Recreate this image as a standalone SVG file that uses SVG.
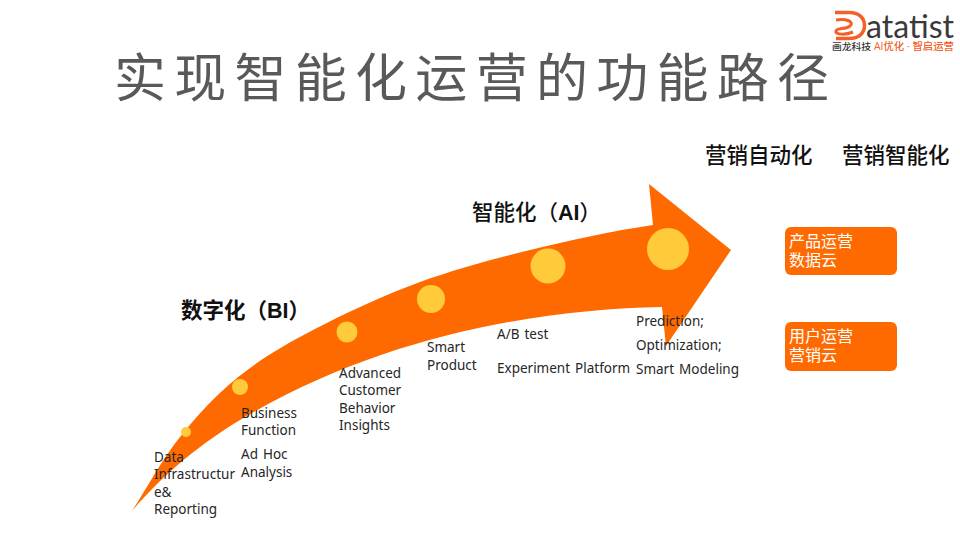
<svg xmlns="http://www.w3.org/2000/svg" width="960" height="540" viewBox="0 0 960 540">
<style>
text{font-family:"Open Sans","Noto Sans CJK SC",sans-serif}
.t{font-family:"Noto Sans",sans-serif;font-size:13.5px;fill:#262626;word-spacing:1.5px}
.h{font-family:"Liberation Sans","Noto Sans CJK SC",sans-serif;font-weight:500;font-size:21.500px;fill:#111}
.b{fill:#ff6a00}
.d{fill:#ffcb3a}
.w{font-family:"Noto Sans CJK SC",sans-serif;font-size:16px;font-weight:400;fill:#fff}
</style>
<rect width="960" height="540" fill="#fff"/>
<g id="logo">
<path d="M835 12.500H849C859 12.500 864.500 18 864.500 25.500C864.500 33 859 38.500 849 38.500H836" fill="none" stroke="#f4602a" stroke-width="3.500"/>
<path d="M836 20C846 18 855 22 850 26C845 30 838 27 836 31C835 35 846 35 853 32" fill="none" stroke="#f4602a" stroke-width="3"/>
<text x="866" y="38" style="font-family:Lato,sans-serif;font-size:33px;fill:#3a3a3a" textLength="88" lengthAdjust="spacingAndGlyphs">atatist</text>
<text x="832" y="50" style="font-size:9.500px;font-weight:500;fill:#333" textLength="39" lengthAdjust="spacingAndGlyphs">画龙科技</text>
<text x="874" y="50" style="font-size:10px;font-weight:500;fill:#f4602a" textLength="80" lengthAdjust="spacingAndGlyphs">AI优化 · 智启运营</text>
</g>
<text id="title" x="114" y="97" style="font-family:'Noto Sans CJK SC',sans-serif;font-size:52px;fill:#595959" textLength="715" lengthAdjust="spacing">实现智能化运营的功能路径</text>
<g id="connectors">
<path id="arrow" class="b" d="M132 511C148 486 162.500 459 180 437C197.500 415 215 396 237 378C259 360 282.500 346 313 330C343.500 314 384 295 420 282C456 269 491 259.500 530 250C569 240.500 612 231 653 225L649 184L731 250L666 346L662 307C540 309 380 336 240 420C205 441 165 472 132 511Z"/>
</g>
<g id="dots">
<circle class="d" cx="186" cy="432" r="5"/>
<circle class="d" cx="240" cy="387" r="8"/>
<circle class="d" cx="347" cy="332" r="10.500"/>
<circle class="d" cx="431" cy="299" r="14"/>
<circle class="d" cx="548" cy="266" r="17.500"/>
<circle class="d" cx="668" cy="249" r="21"/>
</g>
<g id="labels">
<text class="t" x="154" y="462">Data</text>
<text class="t" x="154" y="479">Infrastructur</text>
<text class="t" x="154" y="497">e&amp;</text>
<text class="t" x="154" y="514">Reporting</text>
<text class="t" x="241" y="418">Business</text>
<text class="t" x="241" y="435">Function</text>
<text class="t" x="241" y="459">Ad Hoc</text>
<text class="t" x="241" y="477">Analysis</text>
<text class="t" x="339" y="378">Advanced</text>
<text class="t" x="339" y="395">Customer</text>
<text class="t" x="339" y="413">Behavior</text>
<text class="t" x="339" y="430">Insights</text>
<text class="t" x="427" y="352">Smart</text>
<text class="t" x="427" y="370">Product</text>
<text class="t" x="497" y="339">A/B test</text>
<text class="t" x="497" y="373">Experiment Platform</text>
<text class="t" x="636" y="326">Prediction;</text>
<text class="t" x="636" y="350">Optimization;</text>
<text class="t" x="636" y="374">Smart Modeling</text>
<text class="h" x="181" y="318" style="font-weight:700">数字化（BI）</text>
<text class="h" x="472" y="220">智能化（<tspan style="font-weight:700">AI</tspan>）</text>
<text class="h" x="705" y="163">营销自动化</text>
<text class="h" x="842" y="163">营销智能化</text>
</g>
<g id="box1">
<rect class="b" x="785" y="227" width="112" height="48" rx="6"/>
<text class="w" x="789" y="247">产品运营</text>
<text class="w" x="789" y="266">数据云</text>
</g>
<g id="box2">
<rect class="b" x="785" y="322" width="112" height="49" rx="6"/>
<text class="w" x="789" y="342">用户运营</text>
<text class="w" x="789" y="361">营销云</text>
</g>
</svg>
